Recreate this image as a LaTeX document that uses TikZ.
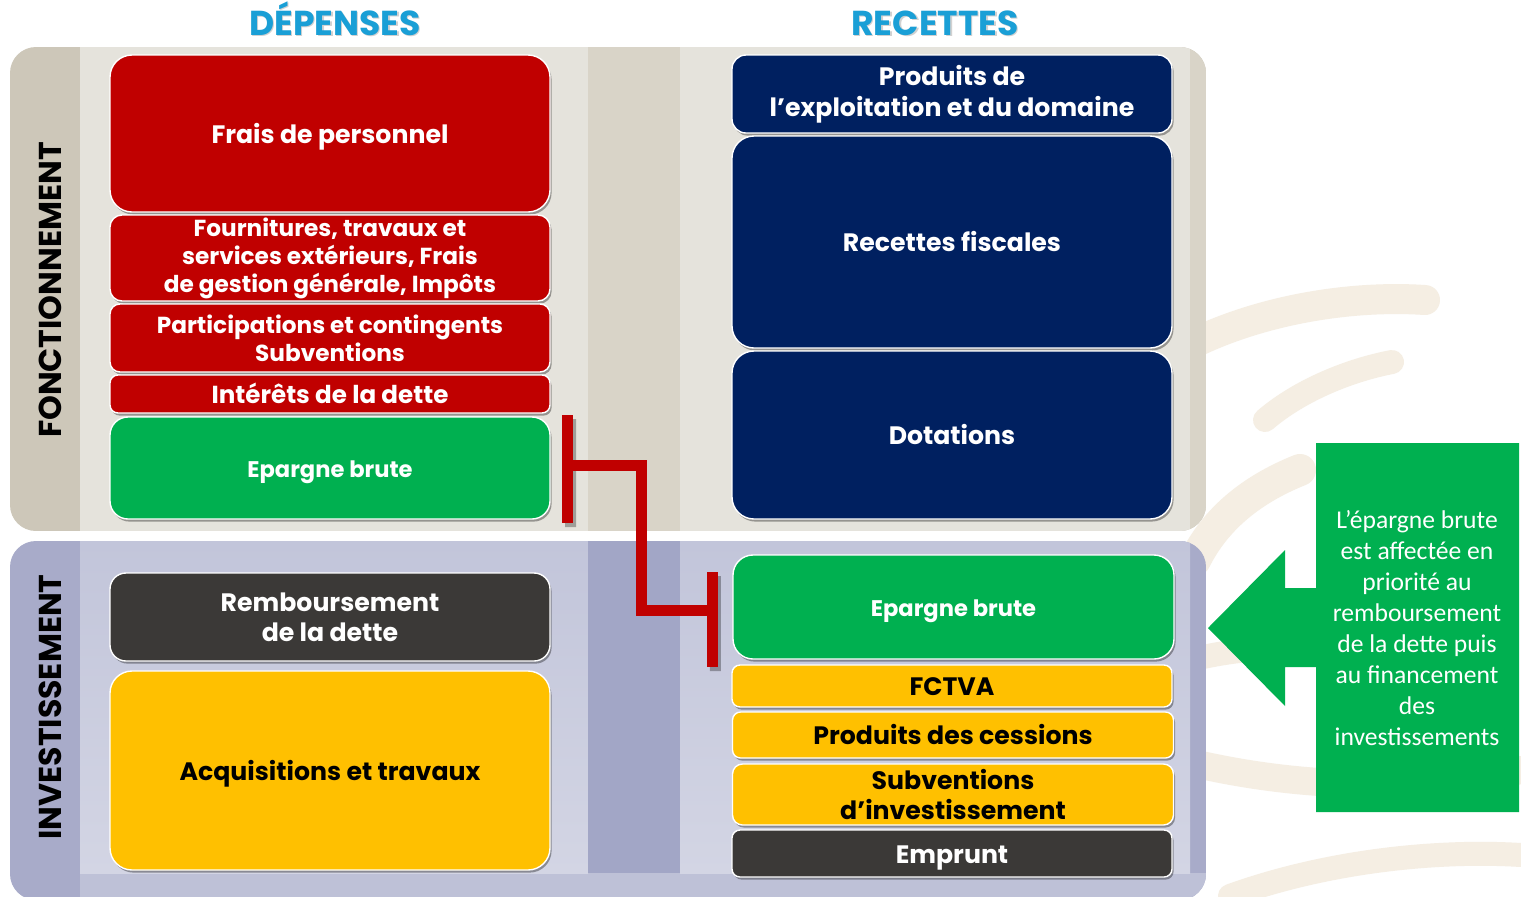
\documentclass[tikz,border=0pt]{standalone}
\usepackage{fontspec}
\setmainfont{Poppins}
\newfontfamily\calib{Carlito}
\usetikzlibrary{shadows,calc}
\definecolor{cred}{HTML}{C00000}
\definecolor{cnavy}{HTML}{002060}
\definecolor{cgreen}{HTML}{00B050}
\definecolor{cyel}{HTML}{FFC000}
\definecolor{cdark}{HTML}{3B3937}
\definecolor{chead}{HTML}{1A9FD6}
\definecolor{tstrip}{HTML}{CDC7B9}
\definecolor{tinner}{HTML}{E5E3DC}
\definecolor{tmid}{HTML}{D9D4C8}
\definecolor{bstrip}{HTML}{A8ABC9}
\definecolor{binner}{HTML}{C2C5DA}
\definecolor{binner2}{HTML}{D3D5E4}
\definecolor{bmid}{HTML}{A2A6C6}
\definecolor{swirl}{HTML}{F5EEE3}
\tikzset{
  boxbase/.style={draw=white, line width=0.7pt, align=center, inner sep=0pt,
    minimum width=220pt, font=\bfseries\fontsize{12.6}{15}\selectfont,
    drop shadow={shadow xshift=0.8pt, shadow yshift=-1.3pt, opacity=0.35, fill=black}},
  wbox/.style={boxbase, text=white},
  kbox/.style={boxbase, text=black},
  one/.style={text height=11.6pt, text depth=1.8pt},
  onesm/.style={text height=10.6pt, text depth=1.6pt},
  smalltxt/.style={font=\bfseries\fontsize{11.6}{14}\selectfont},
  conn/.style={draw=cred, line width=5.5pt, line cap=butt},
  side/.style={font=\bfseries\fontsize{15.8}{18}\selectfont, rotate=90, text=black},
  head/.style={font=\bfseries\fontsize{17.3}{19}\selectfont, text=chead, anchor=base}
}
\begin{document}
\begin{tikzpicture}[x=0.5pt,y=-0.5pt]
\useasboundingbox (0,0) rectangle (1521,896);
\fill[white] (0,0) rectangle (1521,896);
% background swirl decoration
\begin{scope}[line cap=round, draw=swirl]
\draw[line width=15pt] (1190,345) .. controls (1260,310) and (1350,295) .. (1425,300);
\draw[line width=12pt] (1265,420) .. controls (1300,390) and (1350,370) .. (1392,362);
\draw[line width=16pt] (1300,470) .. controls (1250,490) and (1215,520) .. (1195,560);
\draw[line width=12pt] (1190,660) .. controls (1230,650) and (1280,645) .. (1315,650);
\draw[line width=14pt] (1180,760) .. controls (1300,790) and (1420,790) .. (1521,770);
\draw[line width=12pt] (1230,896) .. controls (1330,860) and (1440,850) .. (1521,855);
\end{scope}
% top panel
\begin{scope}
\clip[rounded corners=13pt] (10,47) rectangle (1206,531);
\fill[tstrip] (10,47) rectangle (1206,531);
\fill[tinner] (80,47) rectangle (588,531);
\fill[tmid] (588,47) rectangle (680,531);
\fill[tinner] (680,47) rectangle (1190,531);
\fill[tmid] (1190,47) rectangle (1206,531);
\end{scope}
% bottom panel
\begin{scope}
\clip[rounded corners=13pt] (10,541) rectangle (1206,900);
\fill[bstrip] (10,541) rectangle (1206,900);
\fill[binner!85!bstrip] (80,873) rectangle (1206,900);
\shade[top color=binner, bottom color=binner2] (80,541) rectangle (588,873);
\fill[bmid] (588,541) rectangle (680,873);
\shade[top color=binner, bottom color=binner2] (680,541) rectangle (1190,873);
\end{scope}
% headers
\node[head, text=black!40, opacity=0.45] at (336.5,36.5) {DÉPENSES};
\node[head] (hdep) at (335,35) {DÉPENSES};
\node[head, text=black!40, opacity=0.45] at (936.5,36.5) {RECETTES};
\node[head] (hrec) at (935,35) {RECETTES};
% side labels
\node[side] (fonc) at (50,290) {FONCTIONNEMENT};
\node[side] (inv) at (50,707) {INVESTISSEMENT};
% left column
\node[wbox, one, fill=cred, minimum height=78.5pt, rounded corners=11pt] (fp) at (330,133.5) {Frais de personnel};
\node[wbox, smalltxt, fill=cred, minimum height=43pt, rounded corners=6pt] (fo) at (330,258) {Fournitures, travaux et\\services extérieurs, Frais\\de gestion générale, Impôts};
\node[wbox, smalltxt, fill=cred, minimum height=34pt, rounded corners=5pt] (pa) at (330,338) {Participations et contingents\\Subventions};
\node[wbox, one, fill=cred, minimum height=19pt, rounded corners=4pt, font=\bfseries\fontsize{12.3}{14}\selectfont] (it) at (330,394) {Intérêts de la dette};
\node[wbox, onesm, fill=cgreen, minimum height=51pt, rounded corners=9pt, font=\bfseries\fontsize{11.3}{13}\selectfont] (eb1) at (330,468) {Epargne brute};
\node[wbox, fill=cdark, minimum height=44pt, rounded corners=8pt] (rd) at (330,617) {Remboursement\\de la dette};
\node[kbox, one, fill=cyel, minimum height=99.5pt, rounded corners=11pt] (aq) at (330,770.5) {Acquisitions et travaux};
% right column
\node[wbox, fill=cnavy, minimum height=39pt, rounded corners=7pt, font=\bfseries\fontsize{12.6}{15.5}\selectfont] (pe) at (952,94) {Produits de\\l’exploitation et du domaine};
\node[wbox, one, fill=cnavy, minimum height=106pt, rounded corners=11pt] (rf) at (952,242) {Recettes fiscales};
\node[wbox, one, fill=cnavy, minimum height=84pt, rounded corners=11pt] (do) at (952,435) {Dotations};
\node[wbox, onesm, fill=cgreen, minimum height=52pt, rounded corners=10pt, minimum width=220.5pt, font=\bfseries\fontsize{11.3}{13}\selectfont] (eb2) at (953.5,607) {Epargne brute};
\node[kbox, one, fill=cyel, minimum height=21pt, rounded corners=4pt] (fc) at (952,686) {FCTVA};
\node[kbox, one, fill=cyel, minimum height=23pt, rounded corners=4pt, minimum width=220.5pt] (pc) at (953,735) {Produits des cessions};
\node[kbox, fill=cyel, minimum height=30.5pt, rounded corners=5pt, minimum width=220.5pt] (sv) at (953,794.5) {Subventions\\d’investissement};
\node[wbox, one, fill=cdark, minimum height=23.5pt, rounded corners=4pt] (em) at (952,853.5) {Emprunt};
% connector eb1 -> eb2
\coordinate (b1t) at ($(eb1.east)+(17,-53)$);
\coordinate (b1b) at ($(eb1.east)+(17,55)$);
\coordinate (j1) at ($(eb1.east)+(17,-3)$);
\coordinate (k1) at ($(eb1.east)+(91,-3)$);
\coordinate (b2t) at ($(eb2.west)+(-20,-35)$);
\coordinate (b2b) at ($(eb2.west)+(-20,60)$);
\coordinate (j2) at ($(eb2.west)+(-20,3)$);
\begin{scope}[transparency group, opacity=0.3]
\draw[conn, draw=black] ($(b1t)+(3,4)$) -- ($(b1b)+(3,4)$);
\draw[conn, draw=black] ($(b2t)+(3,4)$) -- ($(b2b)+(3,4)$);
\end{scope}
\draw[conn] (b1t) -- (b1b);
\draw[conn, line join=miter] (j1) -- (k1) -- (k1 |- j2) -- (j2);
\draw[conn] (b2t) -- (b2b);
% green arrow note
\fill[cgreen] (1519,443) -- (1316,443) -- (1316,588) -- (1285,588) -- (1285,550) -- (1208,628)
  -- (1285,706) -- (1285,667) -- (1316,667) -- (1316,812) -- (1519,812) -- cycle;
\node[text=white, align=center, font=\calib\fontsize{12.8}{15.5}\selectfont] (note) at (1417,628)
  {L’épargne brute\\est affectée en\\priorité au\\remboursement\\de la dette puis\\au financement\\des\\investissements};
\end{tikzpicture}
\end{document}
